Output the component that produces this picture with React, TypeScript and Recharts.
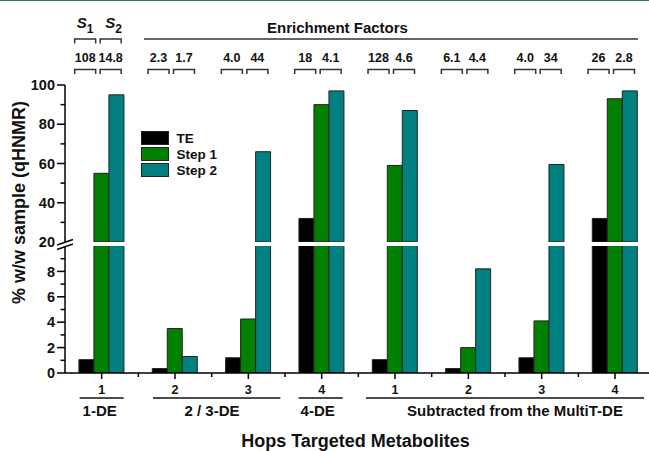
import React from 'react';
import { BarChart, Bar, XAxis, YAxis, Legend } from 'recharts';

// categories along x (metabolite index inside each group)
const categories = ['1', '2', '3', '4', '1', '2', '3', '4'];
const teValues = [1.05, 0.35, 1.2, 32, 1.05, 0.35, 1.2, 32];
const step1Values = [55, 3.5, 4.25, 90, 59, 2.0, 4.1, 93];
const step2Values = [95, 1.3, 66, 97, 87, 8.2, 59.5, 97];

// enrichment factors shown above each category
const factorsStep1 = ['108', '2.3', '4.0', '18', '128', '6.1', '4.0', '26'];
const factorsStep2 = ['14.8', '1.7', '44', '4.1', '4.6', '4.4', '34', '2.8'];

const upperTicks = [20, 30, 40, 50, 60, 70, 80, 90, 100];
const lowerTicks = [0, 1, 2, 3, 4, 5, 6, 7, 8, 9];

const seriesNames = ['TE', 'Step 1', 'Step 2'];

const groupLabels = ['1-DE', '2 / 3-DE', '4-DE', 'Subtracted from the MultiT-DE'];
const groupFrom = [0, 1, 3, 4];
const groupTo = [0, 2, 3, 7];

// layout of the group underlines (relative to category centres)
const groupLayout = [
  { left: -22, right: 22, textDx: -2 },
  { left: -22, right: 32, textDx: 37 },
  { left: -23, right: 21, textDx: -4 },
  { left: -29, right: 29, textDx: 120 },
];

const FONT = '"Liberation Sans", Arial, sans-serif';
const W = 660;
const BAND = (W - 65 - 8.3) / categories.length;
const COLORS = { te: '#000000', step1: '#008000', step2: '#008080' };

const chartData = categories.map((name, i) => ({
  name,
  te: teValues[i],
  step1: step1Values[i],
  step2: step2Values[i],
}));

const upperData = chartData.map((d) => ({
  name: d.name,
  te: d.te >= 20 ? d.te : null,
  step1: d.step1 >= 20 ? d.step1 : null,
  step2: d.step2 >= 20 ? d.step2 : null,
}));

const bracket = (x1: number, x2: number, top: number, bottom: number) =>
  `M${x1},${bottom} V${top} H${x2} V${bottom}`;

const FactorTick = (props: any) => {
  const { x, index } = props;
  const a = [x - 27, x - 6];
  const b = [x - 1.5, x + 19.5];
  const ca = (a[0] + a[1]) / 2;
  const cb = (b[0] + b[1]) / 2;
  const txt = { fontFamily: FONT, fontWeight: 'bold', fill: '#111', textAnchor: 'middle' as const };
  return (
    <g>
      <path d={bracket(a[0], a[1], 69.5, 74)} fill="none" stroke="#333" strokeWidth={1.5} />
      <path d={bracket(b[0], b[1], 69.5, 74)} fill="none" stroke="#333" strokeWidth={1.5} />
      <text x={ca} y={61.5} fontSize={12.5} {...txt}>{factorsStep1[index]}</text>
      <text x={cb} y={61.5} fontSize={12.5} {...txt}>{factorsStep2[index]}</text>
      {index === 0 && (
        <g>
          <path d={bracket(a[0], a[1], 39, 43.5)} fill="none" stroke="#333" strokeWidth={1.5} />
          <path d={bracket(b[0], b[1], 39, 43.5)} fill="none" stroke="#333" strokeWidth={1.5} />
          <text x={ca} y={28} fontSize={15} {...txt}>
            <tspan fontStyle="italic">S</tspan>
            <tspan fontSize={12} dy={5}>1</tspan>
          </text>
          <text x={cb + 3} y={28} fontSize={15} {...txt}>
            <tspan fontStyle="italic">S</tspan>
            <tspan fontSize={12} dy={5}>2</tspan>
          </text>
        </g>
      )}
      {index === 1 && (
        <g>
          <line x1={x - 31} x2={x + 463} y1={39} y2={39} stroke="#333" strokeWidth={1.5} />
          <text x={x + 162.5} y={32.5} fontSize={15} {...txt}>Enrichment Factors</text>
        </g>
      )}
    </g>
  );
};

const YTick = (props: any) => {
  const { y, payload, step, skipLine } = props;
  const v = payload.value;
  const major = v % step === 0;
  return (
    <g>
      {v !== skipLine && (
        <line x1={major ? 57 : 60.5} x2={65} y1={y} y2={y} stroke="#000" strokeWidth={1.5} />
      )}
      {major && (
        <text x={55} y={y} dy={5.2} textAnchor="end" fontSize={14.5} fontWeight="bold" fontFamily={FONT} fill="#111">
          {v}
        </text>
      )}
    </g>
  );
};

const BottomTick = (props: any) => {
  const { x, index, payload } = props;
  const AX = 373;
  const g = groupFrom.indexOf(index);
  const txt = { fontFamily: FONT, fontWeight: 'bold', fill: '#111', textAnchor: 'middle' as const };
  let group = null;
  if (g >= 0) {
    const lay = groupLayout[g];
    const x1 = x + lay.left;
    const x2 = x + (groupTo[g] - groupFrom[g]) * BAND + lay.right;
    group = (
      <g>
        <line x1={x1} x2={x2} y1={398} y2={398} stroke="#111" strokeWidth={1.5} />
        <text x={x + lay.textDx} y={416} fontSize={15} {...txt}>{groupLabels[g]}</text>
      </g>
    );
  }
  return (
    <g>
      <line x1={x} x2={x} y1={AX} y2={AX + 6} stroke="#000" strokeWidth={1.5} />
      {index > 0 && <line x1={x - BAND / 2} x2={x - BAND / 2} y1={AX} y2={AX + 4} stroke="#000" strokeWidth={1.5} />}
      <text x={x} y={393.5} fontSize={12.5} {...txt}>{payload.value}</text>
      {group}
    </g>
  );
};

const renderLegend = (props: any) => {
  const items = [...(props.payload || [])].sort(
    (p: any, q: any) => seriesNames.indexOf(p.value) - seriesNames.indexOf(q.value),
  );
  return (
    <div style={{ fontFamily: FONT }}>
      {items.map((entry: any) => (
        <div key={entry.value} style={{ display: 'flex', alignItems: 'center', height: 16.2 }}>
          <span
            style={{
              display: 'inline-block',
              width: 28,
              height: 14,
              background: entry.color,
              border: '1px solid #222',
              boxSizing: 'border-box',
            }}
          />
          <span style={{ marginLeft: 8, fontSize: 13.5, fontWeight: 'bold', color: '#111' }}>{entry.value}</span>
        </div>
      ))}
    </div>
  );
};

const bars = (['te', 'step1', 'step2'] as const).map((key, i) => (
  <Bar
    key={key}
    dataKey={key}
    name={seriesNames[i]}
    fill={COLORS[key]}
    stroke="#222"
    strokeWidth={1}
    isAnimationActive={false}
  />
));

export default function App() {
  return (
    <div
      style={{
        position: 'fixed',
        left: 0,
        top: 0,
        width: 649,
        height: 451,
        overflow: 'hidden',
        background: '#fff',
        borderTop: '1px solid #2a8050',
        boxSizing: 'border-box',
      }}
    >
      <div style={{ position: 'absolute', left: 0, top: -1 }}>
        <BarChart
          width={W}
          height={451}
          data={chartData}
          margin={{ top: 246, right: 8.3, left: 0, bottom: 0 }}
          barCategoryGap="19%"
          barGap={0}
        >
          <XAxis
            dataKey="name"
            height={78}
            interval={0}
            tickLine={false}
            axisLine={{ stroke: '#000', strokeWidth: 1.5 }}
            tick={(p: any) => <BottomTick {...p} />}
          />
          <YAxis
            width={65}
            type="number"
            domain={[0, 10]}
            allowDataOverflow
            ticks={lowerTicks}
            interval={0}
            tickLine={false}
            axisLine={{ stroke: '#000', strokeWidth: 1.5 }}
            tick={(p: any) => <YTick {...p} step={2} />}
          />
          {bars}
        </BarChart>
      </div>
      <div style={{ position: 'absolute', left: 0, top: -1 }}>
        <BarChart
          width={W}
          height={250}
          data={upperData}
          margin={{ top: 0, right: 8.3, left: 0, bottom: 8 }}
          barCategoryGap="19%"
          barGap={0}
        >
          <XAxis
            dataKey="name"
            orientation="top"
            height={85}
            interval={0}
            axisLine={false}
            tickLine={false}
            tick={(p: any) => <FactorTick {...p} />}
          />
          <YAxis
            width={65}
            type="number"
            domain={[20, 100]}
            allowDataOverflow
            ticks={upperTicks}
            interval={0}
            tickLine={false}
            axisLine={{ stroke: '#000', strokeWidth: 1.5 }}
            tick={(p: any) => <YTick {...p} step={20} skipLine={20} />}
          />
          <Legend
            layout="vertical"
            align="center"
            verticalAlign="middle"
            wrapperStyle={{ left: 140.5, top: 130, width: 110, height: 50 }}
            content={renderLegend}
          />
          {bars}
        </BarChart>
      </div>
      <svg width={649} height={451} style={{ position: 'absolute', left: 0, top: -1, pointerEvents: 'none' }}>
        <line x1={57} y1={245} x2={73} y2={239.5} stroke="#000" strokeWidth={1.5} />
        <line x1={57} y1={249.5} x2={73} y2={244} stroke="#000" strokeWidth={1.5} />
        <text
          x={18}
          y={202.5}
          transform="rotate(-90 18 202.5)"
          textAnchor="middle"
          dy={6.5}
          fontSize={18}
          fontWeight="bold"
          fontFamily={FONT}
          fill="#111"
        >
          % w/w sample (qHNMR)
        </text>
        <text x={355.5} y={447} textAnchor="middle" fontSize={18} fontWeight="bold" fontFamily={FONT} fill="#111">
          Hops Targeted Metabolites
        </text>
      </svg>
    </div>
  );
}
